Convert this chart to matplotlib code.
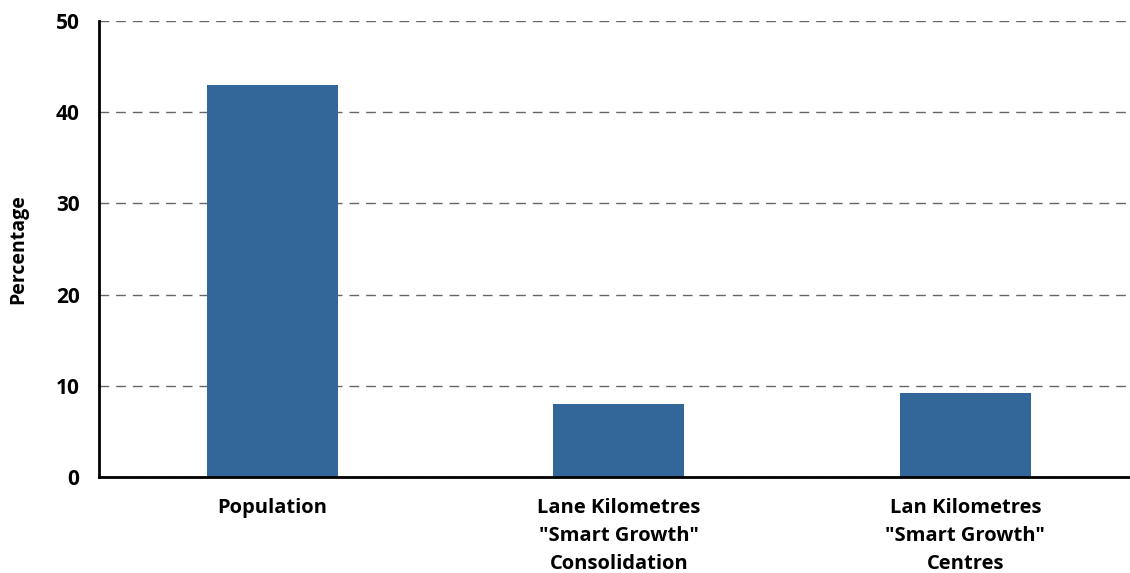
import matplotlib
matplotlib.use("Agg")
import matplotlib.pyplot as plt

plt.rcParams["font.family"] = ["Open Sans", "DejaVu Sans"]

categories = ["Population", 'Lane Kilometres\n"Smart Growth"\nConsolidation',
              'Lan Kilometres\n"Smart Growth"\nCentres']
values = [43.0, 8.0, 9.2]
yticks = [0, 10, 20, 30, 40, 50]

fig = plt.figure(figsize=(11.3, 5.73), dpi=100)
ax = fig.add_axes([0.0876, 0.1675, 0.9124, 0.7959])

ax.bar(range(len(values)), values, width=0.378, color="#336699", zorder=3)

ax.set_xlim(-0.5, 2.475)
ax.set_ylim(0, 50)
ax.set_yticks(yticks)
ax.set_yticklabels([str(t) for t in yticks], fontsize=15, fontweight="bold")
ax.set_xticks(range(len(values)))
ax.set_xticklabels(categories, fontsize=14.5, fontweight="bold", linespacing=1.55)
ax.tick_params(axis="both", length=0)
ax.tick_params(axis="y", pad=14)
ax.tick_params(axis="x", pad=15)

ax.yaxis.grid(True, linestyle=(0, (7, 5)), color="#666666", linewidth=1.0, zorder=0)
ax.spines["top"].set_visible(False)
ax.spines["right"].set_visible(False)
ax.spines["left"].set_linewidth(2)
ax.spines["bottom"].set_linewidth(2)
ax.spines["bottom"].set_zorder(4)

ax.set_ylabel("Percentage", fontsize=14, fontweight="bold", labelpad=20)

fig.savefig("out.png", dpi=100)
